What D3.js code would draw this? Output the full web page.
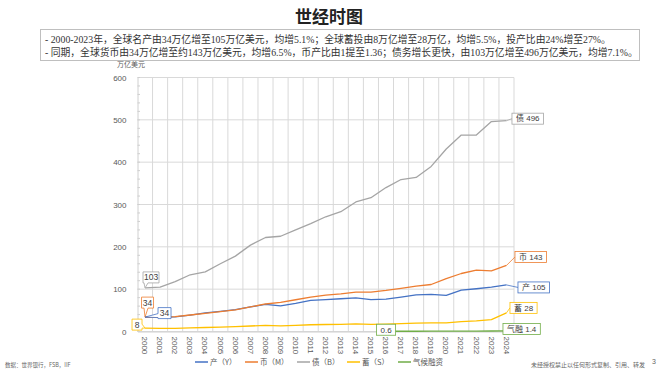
<!DOCTYPE html>
<html>
<head>
<meta charset="utf-8">
<script src="https://cdn.jsdelivr.net/npm/d3@7/dist/d3.min.js"></script>
<style>
  body { margin: 0; background: #fff; }
  svg { display: block; }
</style>
</head>
<body>
<div id="chart"></div>
<script>
// data (万亿美元)
var years = ["2000","2001","2002","2003","2004","2005","2006","2007","2008","2009","2010","2011","2012",
             "2013","2014","2015","2016","2017","2018","2019","2020","2021","2022","2023","2024"];
var gdp     = [34, 33.5, 34.7, 38.9, 43.8, 47.5, 51.5, 58, 64, 60.7, 66.5, 73.6, 75.2,
               77.4, 79.5, 75.2, 76.5, 81.4, 86.5, 87.7, 85.3, 97.5, 101, 105, 110];
var money   = [34, 34, 35, 39, 43, 47, 51, 58, 65, 69, 75, 81, 86,
               89, 93, 93, 97, 102, 107, 111, 125, 137, 145, 143, 156];
var bond    = [103, 105, 118, 134, 141, 160, 178, 204, 222, 225, 240, 255, 271,
               283, 306, 316, 340, 359, 364, 390, 431, 464, 464, 496, 498];
var saving  = [8, 7.5, 7.5, 8.5, 9.5, 10.5, 11.5, 13, 14.5, 13.5, 14.5, 16, 16.5,
               17, 18, 17, 17.5, 18.5, 20, 20.5, 20.5, 23.5, 25, 28, 44];
var climate = [null, null, null, null, null, null, null, null, null, null, null, null, null,
               null, null, null, 0.6, 0.6, 0.6, 0.7, 0.7, 0.7, 0.8, 1.2, 1.4];
var yTicks = [0, 100, 200, 300, 400, 500, 600];

var seriesNames = ["产（Y）", "币（M）", "债（B）", "蓄（S）", "气候融资"];
var seriesColors = ["#4472C4", "#ED7D31", "#A5A5A5", "#FFC000", "#70AD47"];
var seriesValues = [gdp, money, bond, saving, climate];

var summary = [
  "- 2000-2023年，全球名产由34万亿增至105万亿美元，均增5.1%；全球蓄投由8万亿增至28万亿，均增5.5%，投产比由24%增至27%。",
  "- 同期，全球货币由34万亿增至约143万亿美元，均增6.5%，币产比由1提至1.36；债务增长更快，由103万亿增至496万亿美元，均增7.1%。"
];

var width = 658, height = 370;
var cjk = "'Noto Sans CJK SC', sans-serif";
var serifMix = "'Liberation Serif', 'Noto Sans CJK SC', serif";
var numFont = "'Liberation Sans', Arial, sans-serif";

var svg = d3.select("#chart").append("svg")
  .attr("width", width)
  .attr("height", height);

// title
svg.append("text")
  .attr("x", 329).attr("y", 23)
  .attr("text-anchor", "middle")
  .style("font-family", cjk)
  .style("font-size", "17px")
  .style("font-weight", "bold")
  .style("fill", "#222")
  .text("世经时图");

// summary box
svg.append("rect")
  .attr("x", 40.5).attr("y", 29.5)
  .attr("width", 599).attr("height", 31)
  .attr("fill", "#fff")
  .attr("stroke", "#bfbfbf");
svg.selectAll(".summary")
  .data(summary)
  .enter().append("text")
    .attr("x", 45)
    .attr("y", function(d, i) { return 43 + i * 13; })
    .style("font-family", serifMix)
    .style("font-size", "9.8px")
    .style("fill", "#333")
    .text(function(d) { return d; });

// scales
var x = d3.scaleBand().domain(years).range([137.5, 514]);
var y = d3.scaleLinear().domain([0, 600]).range([331.5, 77.5]);
var cx = function(i) { return x(years[i]) + x.bandwidth() / 2; };

var g = svg.append("g");

// horizontal grid
g.selectAll(".hgrid")
  .data(yTicks)
  .enter().append("line")
    .attr("x1", 137.5).attr("x2", 514)
    .attr("y1", function(d) { return y(d); })
    .attr("y2", function(d) { return y(d); })
    .attr("stroke", "#d9d9d9")
    .attr("stroke-width", 1);

// vertical grid at category edges
g.selectAll(".vgrid")
  .data(years)
  .enter().append("line")
    .attr("x1", function(d) { return x(d) + x.bandwidth(); })
    .attr("x2", function(d) { return x(d) + x.bandwidth(); })
    .attr("y1", y(600)).attr("y2", y(0))
    .attr("stroke", "#d9d9d9")
    .attr("stroke-width", 1);

// y axis
var yAxis = g.append("g")
  .attr("transform", "translate(137.5,0)")
  .call(d3.axisLeft(y).tickValues(yTicks).tickSize(0).tickPadding(11));
yAxis.select(".domain").attr("stroke", "#d0d0d0");
yAxis.selectAll("text")
  .style("font-family", numFont)
  .style("font-size", "8px")
  .style("fill", "#595959");

// minor ticks every 20
g.selectAll(".minor")
  .data(d3.range(0, 601, 20))
  .enter().append("line")
    .attr("x1", 137.5).attr("x2", 140)
    .attr("y1", function(d) { return y(d); })
    .attr("y2", function(d) { return y(d); })
    .attr("stroke", "#cfcfcf");

// x axis
var xAxis = g.append("g")
  .attr("transform", "translate(0," + y(0) + ")")
  .call(d3.axisBottom(x).tickSize(0).tickPadding(0));
xAxis.select(".domain").attr("stroke", "#d0d0d0");
xAxis.selectAll("text")
  .attr("transform", "rotate(90)")
  .attr("x", 5).attr("y", 0).attr("dy", "0.35em")
  .style("text-anchor", "start")
  .style("font-family", numFont)
  .style("font-size", "8px")
  .style("fill", "#595959");

// y unit
svg.append("text")
  .attr("x", 117).attr("y", 67)
  .style("font-family", cjk)
  .style("font-size", "7px")
  .style("fill", "#595959")
  .text("万亿美元");

// lines
var line = d3.line()
  .defined(function(d) { return d != null; })
  .x(function(d, i) { return cx(i); })
  .y(function(d) { return y(d); });

seriesValues.forEach(function(vals, k) {
  g.append("path")
    .datum(vals)
    .attr("fill", "none")
    .attr("stroke", seriesColors[k])
    .attr("stroke-width", 1.3)
    .attr("stroke-linejoin", "round")
    .attr("d", line);
});

// end labels with leader lines
var last = years.length - 1;
var endLabels = [
  {s: 2, text: "债 496", dx: 5.5, dy: -2, leader: true},
  {s: 1, text: "币 143", dx: 8.5, dy: -8.5, leader: true},
  {s: 0, text: "产 105", dx: 11.5, dy: 2.5, leader: true},
  {s: 3, text: "蓄 28", dx: 3.5, dy: -5, leader: true},
  {s: 4, text: "气融 1.4", dx: -3.5, dy: -2, leader: false}
];

function boxLabel(bx, by, txt, color) {
  var t = svg.append("text")
    .attr("x", bx + 4).attr("y", by)
    .attr("dy", "0.35em")
    .style("font-family", "'Liberation Sans', 'Noto Sans CJK SC', sans-serif")
    .style("font-size", "8px")
    .style("fill", "#404040")
    .text(txt);
  var w = t.node().getComputedTextLength() + 8;
  svg.insert("rect", function() { return t.node(); })
    .attr("x", bx).attr("y", by - 5.5)
    .attr("width", w).attr("height", 11)
    .attr("fill", "#fff")
    .attr("stroke", color)
    .attr("stroke-width", 0.8);
  return w;
}

endLabels.forEach(function(l) {
  var vals = seriesValues[l.s];
  var px = cx(last), py = y(vals[last]);
  var bx = px + l.dx, by = py + l.dy;
  if (l.leader) {
    svg.append("line")
      .attr("x1", px).attr("y1", py)
      .attr("x2", bx).attr("y2", by)
      .attr("stroke", seriesColors[l.s])
      .attr("stroke-width", 0.8);
  }
  boxLabel(bx, by, l.text, seriesColors[l.s]);
});

// climate finance first point label
var firstClimate = climate.findIndex(function(d) { return d != null; });
boxLabel(cx(firstClimate) - 9.5, y(climate[firstClimate]) - 1.5, "0.6", seriesColors[4]);

// callouts at the start
function callout(i, val, color, txt, bx, by, w, h, side) {
  var px = cx(i), py = y(val);
  var x0 = px + bx, y0 = py + by, x1 = x0 + w, y1 = y0 + h, p;
  if (side === "bottom") {
    var a = Math.max(x0 + 1, Math.min(px - 1, x1 - 5));
    p = "M" + x0 + "," + y0 + "H" + x1 + "V" + y1 + "H" + (a + 4) + "L" + px + "," + py +
        "L" + a + "," + y1 + "H" + x0 + "Z";
  } else if (side === "left") {
    p = "M" + x0 + "," + y0 + "H" + x1 + "V" + y1 + "H" + x0 + "V" + (y1 - 1) +
        "L" + px + "," + py + "L" + x0 + "," + (y1 - 5) + "Z";
  } else {
    p = "M" + x0 + "," + y0 + "H" + x1 + "V" + (y1 - 6) + "L" + px + "," + py +
        "L" + x1 + "," + (y1 - 2) + "V" + y1 + "H" + x0 + "Z";
  }
  svg.append("path")
    .attr("d", p)
    .attr("fill", "#fff")
    .attr("stroke", color)
    .attr("stroke-width", 0.8);
  svg.append("text")
    .attr("x", x0 + w / 2).attr("y", y0 + h / 2)
    .attr("dy", "0.35em")
    .attr("text-anchor", "middle")
    .style("font-family", numFont)
    .style("font-size", "8.5px")
    .style("fill", "#404040")
    .text(txt);
}

callout(0, bond[0], seriesColors[2], "103", -2, -16, 16, 11, "bottom");
callout(0, money[0], seriesColors[1], "34", -3.5, -20, 12, 11, "bottom");
callout(0, gdp[0], seriesColors[0], "34", 13, -9.5, 13, 11, "left");
callout(0, saving[0], seriesColors[3], "8", -13, -9, 10, 11, "right");

// legend
var legendX = [195, 245, 297, 347, 398];
var legend = svg.selectAll(".legend")
  .data(seriesNames)
  .enter().append("g")
    .attr("transform", function(d, i) { return "translate(" + legendX[i] + ",362)"; });
legend.append("line")
  .attr("x1", 0).attr("x2", 13)
  .attr("stroke", function(d, i) { return seriesColors[i]; })
  .attr("stroke-width", 1.5);
legend.append("text")
  .attr("x", 15).attr("dy", "0.35em")
  .style("font-family", cjk)
  .style("font-size", "7.5px")
  .style("fill", "#595959")
  .text(function(d) { return d; });

// footer
svg.append("text")
  .attr("x", 5).attr("y", 367)
  .style("font-family", cjk)
  .style("font-size", "5.5px")
  .style("fill", "#666")
  .text("数据：世界银行，FSB，IIF");
svg.append("text")
  .attr("x", 645).attr("y", 367)
  .attr("text-anchor", "end")
  .style("font-family", cjk)
  .style("font-size", "6px")
  .style("fill", "#666")
  .text("未经授权禁止以任何形式复制、引用、转发");
svg.append("text")
  .attr("x", 652).attr("y", 364)
  .style("font-family", numFont)
  .style("font-size", "7px")
  .style("fill", "#666")
  .text("3");
</script>
</body>
</html>
